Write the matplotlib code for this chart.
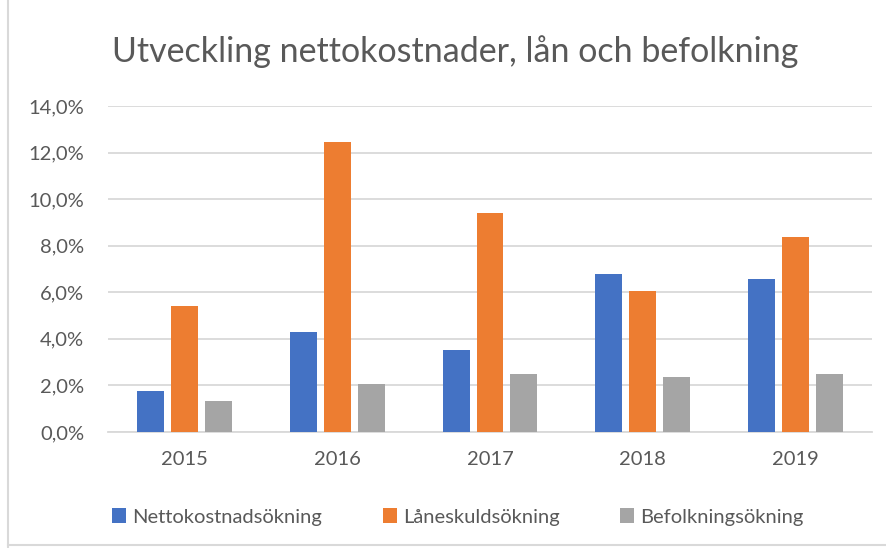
import matplotlib
matplotlib.use('Agg')
import matplotlib.pyplot as plt
import numpy as np
from matplotlib.ticker import FuncFormatter

# data
years = ['2015', '2016', '2017', '2018', '2019']
netto = [1.74, 4.28, 3.54, 6.78, 6.55]
laneskuld = [5.42, 12.46, 9.42, 6.05, 8.37]
befolkning = [1.32, 2.08, 2.48, 2.38, 2.48]
series_names = ['Nettokostnadsökning', 'Låneskuldsökning', 'Befolkningsökning']
colors = ['#4472C4', '#ED7D31', '#A5A5A5']

plt.rcParams['font.family'] = ['Lato', 'DejaVu Sans']

fig = plt.figure(figsize=(8.87, 5.48), dpi=100)
ax = fig.add_axes([108 / 887, 1 - 432 / 548, 764 / 887, 326 / 548])

x = np.arange(len(years))
w = 0.176
step = 0.222
for i, (vals, name, c) in enumerate(zip([netto, laneskuld, befolkning], series_names, colors)):
    ax.bar(x + (i - 1) * step, vals, width=w, color=c, label=name, zorder=3)

ax.set_xlim(-0.5, 4.5)
ax.set_ylim(0, 14)
ax.set_yticks(np.arange(0, 14.1, 2))
ax.yaxis.set_major_formatter(FuncFormatter(lambda v, p: '{:.1f}%'.format(v).replace('.', ',')))
ax.set_xticks(x)
ax.set_xticklabels(years)
ax.grid(axis='y', color='#D9D9D9', linewidth=1.3, zorder=0)
for s in ['top', 'right', 'left']:
    ax.spines[s].set_visible(False)
ax.spines['bottom'].set_color('#D9D9D9')
ax.spines['bottom'].set_linewidth(1.3)
ax.tick_params(axis='both', length=0, labelsize=14.5, colors='#595959')
ax.tick_params(axis='y', pad=17)
ax.tick_params(axis='x', pad=14)

fig.text(455 / 887, 1 - 52 / 548, 'Utveckling nettokostnader, lån och befolkning',
         ha='center', va='center', fontsize=24.5, color='#595959')

leg = fig.legend(loc='center', bbox_to_anchor=(458 / 887, 1 - 517 / 548), ncol=3,
                 frameon=False, fontsize=14.5, handlelength=0.7, handleheight=0.7,
                 handletextpad=0.3, columnspacing=3.0)
for t in leg.get_texts():
    t.set_color('#595959')

# chart frame (left and bottom edges visible in reference)
fig.add_artist(plt.Line2D([8 / 887, 8 / 887], [0, 1], color='#D9D9D9', linewidth=1.5))
fig.add_artist(plt.Line2D([8 / 887, 1], [3 / 548, 3 / 548], color='#D9D9D9', linewidth=1.5))

fig.savefig('out.png', dpi=100)
